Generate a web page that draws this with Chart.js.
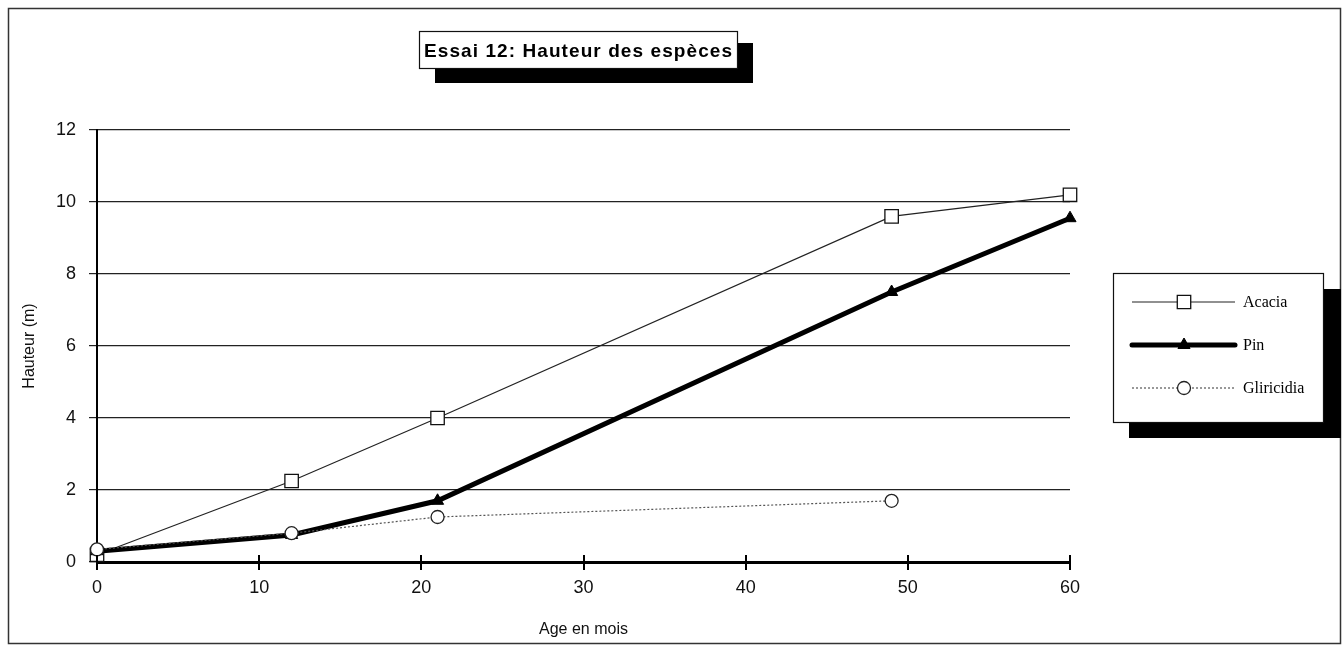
<!DOCTYPE html>
<html lang="fr">
<head>
<meta charset="utf-8">
<title>Essai 12: Hauteur des espèces</title>
<script src="https://cdn.jsdelivr.net/npm/chart.js@4/dist/chart.umd.min.js"></script>
<style>
  html, body { margin: 0; padding: 0; background: #ffffff; }
  #zone { position: relative; width: 1344px; height: 651px; }
</style>
</head>
<body>
<div id="zone"><canvas id="hauteurChart" width="1344" height="651"></canvas></div>
<script>
// Mesures de hauteur (m) selon l'âge (mois)
var ageMois = [0, 12, 21, 49, 60];
var hauteurAcacia = [0.2, 2.25, 4.0, 9.6, 10.2];
var hauteurPin = [0.3, 0.75, 1.7, 7.5, 9.55];
var hauteurGliricidia = [0.35, 0.8, 1.25, 1.7];

var graduationsX = [0, 10, 20, 30, 40, 50, 60];
var graduationsY = [0, 2, 4, 6, 8, 10, 12];

var titreGraphique = "Essai 12: Hauteur des espèces";
var nomsEspeces = ["Acacia", "Pin", "Gliricidia"];

// associe chaque hauteur à son âge
function points(valeurs) {
    return valeurs.map(function (v, i) {
        return { x: ageMois[i], y: v };
    });
}

var policeSans = '"Liberation Sans", Arial, sans-serif';
var policeSerif = '"Liberation Serif", "Times New Roman", serif';

/**
 * Cadre général, boîte de titre et légende avec ombre portée
 */
var cadresPlugin = {
    id: 'cadres',
    beforeDraw: function (chart) {
        var ctx = chart.ctx;
        ctx.save();
        ctx.fillStyle = '#ffffff';
        ctx.fillRect(0, 0, chart.width, chart.height);
        ctx.restore();
    },
    afterDraw: function (chart) {
        var ctx = chart.ctx;
        ctx.save();

        // petites graduations au-dessus de l'axe des x
        var sx = chart.scales.x;
        ctx.strokeStyle = '#000';
        ctx.lineWidth = 2;
        graduationsX.forEach(function (v) {
            var px = Math.round(sx.getPixelForValue(v));
            ctx.beginPath();
            ctx.moveTo(px, sx.top - 7);
            ctx.lineTo(px, sx.top);
            ctx.stroke();
        });

        // cadre extérieur
        ctx.strokeStyle = '#333';
        ctx.lineWidth = 1.5;
        ctx.strokeRect(8.5, 8.5, 1332, 635);

        // boîte du titre
        ctx.fillStyle = '#000';
        ctx.fillRect(435, 43, 318, 40);
        ctx.fillStyle = '#fff';
        ctx.fillRect(419, 31, 318, 37);
        ctx.strokeStyle = '#111';
        ctx.lineWidth = 1.2;
        ctx.strokeRect(419.5, 31.5, 318, 37);

        ctx.font = 'bold 19px ' + policeSans;
        ctx.fillStyle = '#000';
        ctx.textBaseline = 'alphabetic';
        ctx.textAlign = 'left';
        var largeur = ctx.measureText(titreGraphique).width;
        var cible = 308;
        if ('letterSpacing' in ctx) {
            ctx.letterSpacing = ((cible - largeur) / (titreGraphique.length - 1)).toFixed(2) + 'px';
            ctx.fillText(titreGraphique, 424, 57);
            ctx.letterSpacing = '0px';
        } else {
            ctx.fillText(titreGraphique, 424 + (cible - largeur) / 2, 57);
        }

        // légende
        ctx.fillStyle = '#000';
        ctx.fillRect(1129, 289, 212, 149);
        ctx.fillStyle = '#fff';
        ctx.fillRect(1113, 273, 210, 149);
        ctx.strokeStyle = '#111';
        ctx.lineWidth = 1.2;
        ctx.strokeRect(1113.5, 273.5, 210, 149);

        var lignesY = [302, 345, 388];
        [0, 1, 2].forEach(function (idx, k) {
            var ds = chart.data.datasets[idx];
            var y = lignesY[k];
            ctx.save();
            ctx.strokeStyle = ds.borderColor;
            ctx.lineWidth = ds.borderWidth;
            ctx.setLineDash(ds.borderDash || []);
            ctx.lineCap = ds.borderWidth > 3 ? 'round' : 'butt';
            ctx.beginPath();
            ctx.moveTo(1132, y);
            ctx.lineTo(1235, y);
            ctx.stroke();
            ctx.restore();

            ctx.save();
            ctx.fillStyle = ds.pointBackgroundColor;
            ctx.strokeStyle = ds.pointBorderColor;
            ctx.lineWidth = ds.pointBorderWidth;
            Chart.helpers.drawPoint(ctx, {
                pointStyle: ds.pointStyle,
                radius: ds.pointRadius,
                rotation: 0,
                borderWidth: ds.pointBorderWidth
            }, 1184, y);
            ctx.restore();

            ctx.font = '16px ' + policeSerif;
            ctx.fillStyle = '#000';
            ctx.textBaseline = 'middle';
            ctx.fillText(ds.label, 1243, y + 1);
        });

        ctx.restore();
    }
};

function initHauteurChart() {
    var ctx = document.getElementById('hauteurChart');

    new Chart(ctx, {
        type: 'line',
        data: {
            datasets: [{
                label: nomsEspeces[0],
                data: points(hauteurAcacia),
                borderColor: '#222',
                borderWidth: 1.2,
                pointStyle: 'rect',
                pointRadius: 9.5,
                pointBackgroundColor: '#fff',
                pointBorderColor: '#111',
                pointBorderWidth: 1.3,
                clip: false,
                order: 3
            }, {
                label: nomsEspeces[1],
                data: points(hauteurPin),
                borderColor: '#000',
                borderWidth: 5,
                pointStyle: 'triangle',
                pointRadius: 7,
                pointBackgroundColor: '#000',
                pointBorderColor: '#000',
                pointBorderWidth: 1,
                clip: false,
                order: 2
            }, {
                label: nomsEspeces[2],
                data: points(hauteurGliricidia),
                borderColor: '#555',
                borderWidth: 1.2,
                borderDash: [2, 2],
                pointStyle: 'circle',
                pointRadius: 6.5,
                pointBackgroundColor: '#fff',
                pointBorderColor: '#222',
                pointBorderWidth: 1.3,
                clip: false,
                order: 1
            }]
        },
        options: {
            responsive: false,
            animation: false,
            devicePixelRatio: 1,
            layout: {
                padding: { top: 130, right: 274, bottom: 0, left: 10 }
            },
            plugins: {
                legend: { display: false },
                tooltip: { enabled: false }
            },
            scales: {
                x: {
                    type: 'linear',
                    min: 0,
                    max: 60,
                    afterBuildTicks: function (s) {
                        s.ticks = graduationsX.map(function (v) { return { value: v }; });
                    },
                    afterFit: function (s) { s.height = 89; },
                    grid: {
                        drawOnChartArea: false,
                        drawTicks: true,
                        tickLength: 8,
                        color: '#000',
                        lineWidth: 2
                    },
                    border: { display: true, color: '#000', width: 3 },
                    ticks: {
                        padding: 7,
                        color: '#111',
                        font: { family: policeSans, size: 18 }
                    },
                    title: {
                        display: true,
                        text: 'Age en mois',
                        color: '#111',
                        font: { family: policeSans, size: 16 },
                        padding: { top: 4, bottom: 12 }
                    }
                },
                y: {
                    min: 0,
                    max: 12,
                    afterBuildTicks: function (s) {
                        s.ticks = graduationsY.map(function (v) { return { value: v }; });
                    },
                    afterFit: function (s) { s.width = 87; },
                    grid: {
                        color: '#222',
                        lineWidth: 1.2,
                        drawTicks: true,
                        tickLength: 8
                    },
                    border: { display: true, color: '#000', width: 2 },
                    ticks: {
                        padding: 13,
                        color: '#111',
                        font: { family: policeSans, size: 18 }
                    },
                    title: {
                        display: true,
                        text: 'Hauteur (m)',
                        color: '#111',
                        font: { family: policeSans, size: 16 },
                        padding: { top: 10, bottom: 0 }
                    }
                }
            }
        },
        plugins: [cadresPlugin]
    });
}

document.addEventListener('DOMContentLoaded', function () {
    initHauteurChart();
});
</script>
</body>
</html>
